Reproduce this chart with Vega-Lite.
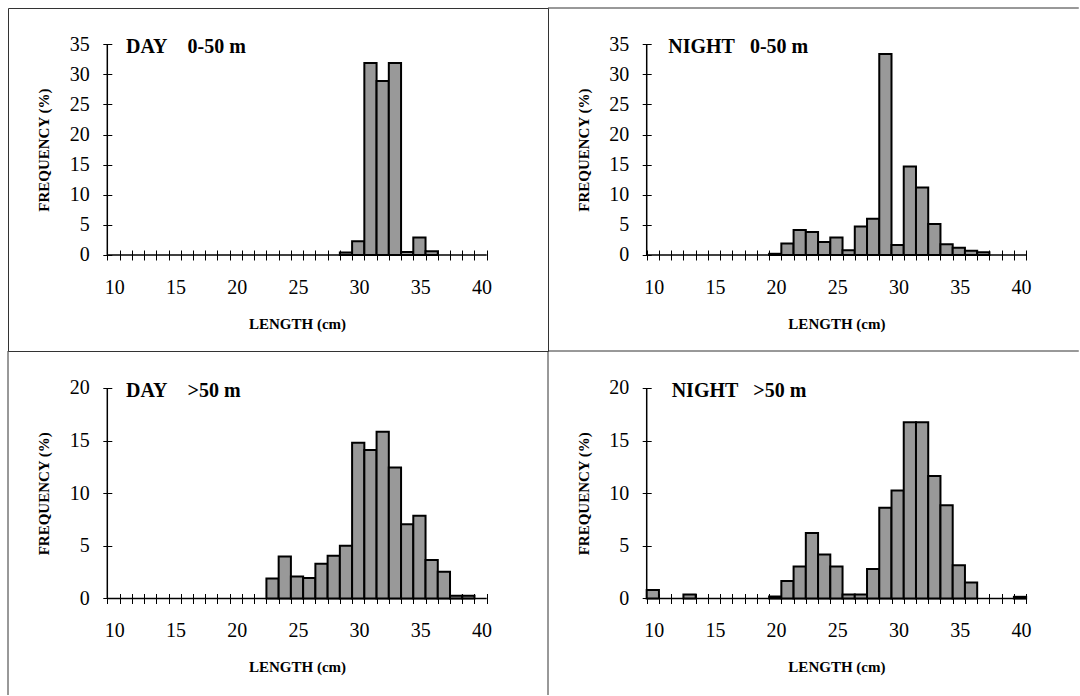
{
  "$schema": "https://vega.github.io/schema/vega-lite/v6.json",
  "padding": {"left": 7, "top": 7, "right": 0, "bottom": 0},
  "background": "white",
  "datasets": {
    "bars": [
      {"panel": "D1", "length": 29, "freq": 0.4},
      {"panel": "D1", "length": 30, "freq": 2.3},
      {"panel": "D1", "length": 31, "freq": 31.9},
      {"panel": "D1", "length": 32, "freq": 28.9},
      {"panel": "D1", "length": 33, "freq": 31.9},
      {"panel": "D1", "length": 34, "freq": 0.5},
      {"panel": "D1", "length": 35, "freq": 2.9},
      {"panel": "D1", "length": 36, "freq": 0.6},
      {"panel": "N1", "length": 20, "freq": 0.2},
      {"panel": "N1", "length": 21, "freq": 1.9},
      {"panel": "N1", "length": 22, "freq": 4.15},
      {"panel": "N1", "length": 23, "freq": 3.8},
      {"panel": "N1", "length": 24, "freq": 2.15},
      {"panel": "N1", "length": 25, "freq": 2.9},
      {"panel": "N1", "length": 26, "freq": 0.8},
      {"panel": "N1", "length": 27, "freq": 4.75},
      {"panel": "N1", "length": 28, "freq": 6.0},
      {"panel": "N1", "length": 29, "freq": 33.4},
      {"panel": "N1", "length": 30, "freq": 1.65},
      {"panel": "N1", "length": 31, "freq": 14.7},
      {"panel": "N1", "length": 32, "freq": 11.2},
      {"panel": "N1", "length": 33, "freq": 5.15},
      {"panel": "N1", "length": 34, "freq": 1.8},
      {"panel": "N1", "length": 35, "freq": 1.2},
      {"panel": "N1", "length": 36, "freq": 0.7},
      {"panel": "N1", "length": 37, "freq": 0.45},
      {"panel": "D2", "length": 23, "freq": 1.9},
      {"panel": "D2", "length": 24, "freq": 4.0},
      {"panel": "D2", "length": 25, "freq": 2.1},
      {"panel": "D2", "length": 26, "freq": 1.95},
      {"panel": "D2", "length": 27, "freq": 3.3},
      {"panel": "D2", "length": 28, "freq": 4.05},
      {"panel": "D2", "length": 29, "freq": 5.0},
      {"panel": "D2", "length": 30, "freq": 14.8},
      {"panel": "D2", "length": 31, "freq": 14.1},
      {"panel": "D2", "length": 32, "freq": 15.85},
      {"panel": "D2", "length": 33, "freq": 12.45},
      {"panel": "D2", "length": 34, "freq": 7.05},
      {"panel": "D2", "length": 35, "freq": 7.85},
      {"panel": "D2", "length": 36, "freq": 3.65},
      {"panel": "D2", "length": 37, "freq": 2.55},
      {"panel": "D2", "length": 38, "freq": 0.25},
      {"panel": "D2", "length": 39, "freq": 0.25},
      {"panel": "N2", "length": 10, "freq": 0.8},
      {"panel": "N2", "length": 13, "freq": 0.38},
      {"panel": "N2", "length": 20, "freq": 0.2},
      {"panel": "N2", "length": 21, "freq": 1.67},
      {"panel": "N2", "length": 22, "freq": 3.03},
      {"panel": "N2", "length": 23, "freq": 6.22},
      {"panel": "N2", "length": 24, "freq": 4.17},
      {"panel": "N2", "length": 25, "freq": 3.03},
      {"panel": "N2", "length": 26, "freq": 0.38},
      {"panel": "N2", "length": 27, "freq": 0.38},
      {"panel": "N2", "length": 28, "freq": 2.81},
      {"panel": "N2", "length": 29, "freq": 8.63},
      {"panel": "N2", "length": 30, "freq": 10.27},
      {"panel": "N2", "length": 31, "freq": 16.75},
      {"panel": "N2", "length": 32, "freq": 16.75},
      {"panel": "N2", "length": 33, "freq": 11.63},
      {"panel": "N2", "length": 34, "freq": 8.85},
      {"panel": "N2", "length": 35, "freq": 3.16},
      {"panel": "N2", "length": 36, "freq": 1.52},
      {"panel": "N2", "length": 40, "freq": 0.16}
    ],
    "titles": [
      {"panel": "D1", "title": "DAY\u00a0\u00a0\u00a0 0-50 m"},
      {"panel": "N1", "title": "NIGHT\u00a0\u00a0 0-50 m"},
      {"panel": "D2", "title": "DAY\u00a0\u00a0\u00a0 >50 m"},
      {"panel": "N2", "title": "NIGHT\u00a0\u00a0 >50 m"}
    ]
  },
  "config": {
    "view": {"stroke": null},
    "concat": {"spacing": 0},
    "axis": {
      "domain": false, "grid": false, "tickColor": "black", "tickWidth": 1, "tickCount": 100,
      "labelFont": "Liberation Serif", "labelFontSize": 20, "labelColor": "black",
      "labelOverlap": false, "labelFlush": false,
      "titleFont": "Liberation Serif", "titleFontSize": 15, "titleFontWeight": "bold", "titleColor": "black"
    }
  },
  "columns": 2,
  "spacing": 0,
  "bounds": "flush",
  "align": "each",
  "concat": [
    {
      "width": 540, "height": 343,
      "view": {"stroke": "#333333", "strokeWidth": 1},
      "layer": [
        {"data": {"values": [{}]}, "mark": {"type": "rule", "color": "black", "strokeWidth": 1.5},
         "encoding": {"x": {"datum": 9.5, "type": "quantitative", "scale": {"domain": [1.387, 45.505], "nice": false, "zero": false, "padding": 0}}, "x2": {"datum": 40.5},
                      "y": {"datum": 0, "type": "quantitative", "scale": {"domain": [-15.95, 41.03], "nice": false, "zero": false, "padding": 0}}}},
        {"data": {"values": [{}]}, "mark": {"type": "rule", "color": "black", "strokeWidth": 1.5},
         "encoding": {"x": {"datum": 9.5, "type": "quantitative", "scale": {"domain": [1.387, 45.505], "nice": false, "zero": false, "padding": 0}},
                      "y": {"datum": 0, "type": "quantitative", "scale": {"domain": [-15.95, 41.03], "nice": false, "zero": false, "padding": 0}}, "y2": {"datum": 35}}},
        {"data": {"name": "bars"}, "transform": [{"filter": "datum.panel === 'D1'"}],
         "mark": {"type": "bar", "orient": "vertical", "width": 12.24, "fill": "#999999", "stroke": "black", "strokeWidth": 2},
         "encoding": {
           "x": {"field": "length", "type": "quantitative", "scale": {"domain": [1.387, 45.505], "nice": false, "zero": false, "padding": 0},
                 "axis": {"title": "LENGTH (cm)", "offset": -101, "tickSize": 10, "tickCount": 100, "labelPadding": 17, "labelOffset": 7, "values": [9.5,10.5,11.5,12.5,13.5,14.5,15.5,16.5,17.5,18.5,19.5,20.5,21.5,22.5,23.5,24.5,25.5,26.5,27.5,28.5,29.5,30.5,31.5,32.5,33.5,34.5,35.5,36.5,37.5,38.5,39.5,40.5],
                          "labelExpr": "(datum.value + 0.5) % 5 == 0 ? format(datum.value + 0.5, 'd') : ''", "titleX": 289, "titleY": 73, "titleBaseline": "middle", "titleAlign": "center"}},
           "y": {"field": "freq", "type": "quantitative", "scale": {"domain": [-15.95, 41.03], "nice": false, "zero": false, "padding": 0},
                 "axis": {"title": "FREQUENCY (%)", "offset": -103.8, "tickSize": 9, "tickCount": 100, "format": "d", "labelPadding": 13.5, "values": [0,5,10,15,20,25,30,35], "titleX": -68, "titleY": 141.65, "titleBaseline": "middle", "titleAlign": "center", "titleAngle": 270}}
         }},
        {"data": {"name": "titles"}, "transform": [{"filter": "datum.panel === 'D1'"}],
         "mark": {"type": "text", "align": "left", "baseline": "middle", "font": "Liberation Serif", "fontSize": 20, "fontWeight": "bold", "color": "black"},
         "encoding": {"x": {"datum": 11.03, "type": "quantitative", "scale": {"domain": [1.387, 45.505], "nice": false, "zero": false, "padding": 0}},
                      "y": {"datum": 34.47, "type": "quantitative", "scale": {"domain": [-15.95, 41.03], "nice": false, "zero": false, "padding": 0}},
                      "text": {"field": "title"}}}
      ]
    },
    {
      "width": 532, "height": 343,
      "layer": [
        {"data": {"values": [{}]}, "mark": {"type": "rule", "color": "#333333", "strokeWidth": 1},
         "encoding": {"x": {"datum": 1.436, "type": "quantitative", "scale": {"domain": [1.436, 44.9], "nice": false, "zero": false, "padding": 0}}, "x2": {"datum": 44.8},
                      "y": {"datum": 41.03, "type": "quantitative", "scale": {"domain": [-15.95, 41.03], "nice": false, "zero": false, "padding": 0}}}},
        {"data": {"values": [{}]}, "mark": {"type": "rule", "color": "#333333", "strokeWidth": 1},
         "encoding": {"x": {"datum": 1.436, "type": "quantitative", "scale": {"domain": [1.436, 44.9], "nice": false, "zero": false, "padding": 0}}, "x2": {"datum": 44.8},
                      "y": {"datum": -15.95, "type": "quantitative", "scale": {"domain": [-15.95, 41.03], "nice": false, "zero": false, "padding": 0}}}},
        {"data": {"values": [{}]}, "mark": {"type": "rule", "color": "black", "strokeWidth": 1.5},
         "encoding": {"x": {"datum": 9.5, "type": "quantitative", "scale": {"domain": [1.436, 44.9], "nice": false, "zero": false, "padding": 0}}, "x2": {"datum": 40.5},
                      "y": {"datum": 0, "type": "quantitative", "scale": {"domain": [-15.95, 41.03], "nice": false, "zero": false, "padding": 0}}}},
        {"data": {"values": [{}]}, "mark": {"type": "rule", "color": "black", "strokeWidth": 1.5},
         "encoding": {"x": {"datum": 9.5, "type": "quantitative", "scale": {"domain": [1.436, 44.9], "nice": false, "zero": false, "padding": 0}},
                      "y": {"datum": 0, "type": "quantitative", "scale": {"domain": [-15.95, 41.03], "nice": false, "zero": false, "padding": 0}}, "y2": {"datum": 35}}},
        {"data": {"name": "bars"}, "transform": [{"filter": "datum.panel === 'N1'"}],
         "mark": {"type": "bar", "orient": "vertical", "width": 12.24, "fill": "#999999", "stroke": "black", "strokeWidth": 2},
         "encoding": {
           "x": {"field": "length", "type": "quantitative", "scale": {"domain": [1.436, 44.9], "nice": false, "zero": false, "padding": 0},
                 "axis": {"title": "LENGTH (cm)", "offset": -101, "tickSize": 10, "tickCount": 100, "labelPadding": 17, "labelOffset": 7, "values": [9.5,10.5,11.5,12.5,13.5,14.5,15.5,16.5,17.5,18.5,19.5,20.5,21.5,22.5,23.5,24.5,25.5,26.5,27.5,28.5,29.5,30.5,31.5,32.5,33.5,34.5,35.5,36.5,37.5,38.5,39.5,40.5],
                          "labelExpr": "(datum.value + 0.5) % 5 == 0 ? format(datum.value + 0.5, 'd') : ''", "titleX": 288.4, "titleY": 73, "titleBaseline": "middle", "titleAlign": "center"}},
           "y": {"field": "freq", "type": "quantitative", "scale": {"domain": [-15.95, 41.03], "nice": false, "zero": false, "padding": 0},
                 "axis": {"title": "FREQUENCY (%)", "offset": -103.2, "tickSize": 9, "tickCount": 100, "format": "d", "labelPadding": 13.5, "values": [0,5,10,15,20,25,30,35], "titleX": -68, "titleY": 141.65, "titleBaseline": "middle", "titleAlign": "center", "titleAngle": 270}}
         }},
        {"data": {"name": "titles"}, "transform": [{"filter": "datum.panel === 'N1'"}],
         "mark": {"type": "text", "align": "left", "baseline": "middle", "font": "Liberation Serif", "fontSize": 20, "fontWeight": "bold", "color": "black"},
         "encoding": {"x": {"datum": 11.26, "type": "quantitative", "scale": {"domain": [1.436, 44.9], "nice": false, "zero": false, "padding": 0}},
                      "y": {"datum": 34.47, "type": "quantitative", "scale": {"domain": [-15.95, 41.03], "nice": false, "zero": false, "padding": 0}},
                      "text": {"field": "title"}}}
      ]
    },
    {
      "width": 540, "height": 344,
      "layer": [
        {"data": {"values": [{}]}, "mark": {"type": "rule", "color": "#333333", "strokeWidth": 1},
         "encoding": {"x": {"datum": 1.387, "type": "quantitative", "scale": {"domain": [1.387, 45.505], "nice": false, "zero": false, "padding": 0}},
                      "y": {"datum": -9.169, "type": "quantitative", "scale": {"domain": [-9.169, 23.515], "nice": false, "zero": false, "padding": 0}}, "y2": {"datum": 23.515}}},
        {"data": {"values": [{}]}, "mark": {"type": "rule", "color": "#333333", "strokeWidth": 1},
         "encoding": {"x": {"datum": 45.505, "type": "quantitative", "scale": {"domain": [1.387, 45.505], "nice": false, "zero": false, "padding": 0}},
                      "y": {"datum": -9.169, "type": "quantitative", "scale": {"domain": [-9.169, 23.515], "nice": false, "zero": false, "padding": 0}}, "y2": {"datum": 23.515}}},
        {"data": {"values": [{}]}, "mark": {"type": "rule", "color": "black", "strokeWidth": 1.5},
         "encoding": {"x": {"datum": 9.5, "type": "quantitative", "scale": {"domain": [1.387, 45.505], "nice": false, "zero": false, "padding": 0}}, "x2": {"datum": 40.5},
                      "y": {"datum": 0, "type": "quantitative", "scale": {"domain": [-9.169, 23.515], "nice": false, "zero": false, "padding": 0}}}},
        {"data": {"values": [{}]}, "mark": {"type": "rule", "color": "black", "strokeWidth": 1.5},
         "encoding": {"x": {"datum": 9.5, "type": "quantitative", "scale": {"domain": [1.387, 45.505], "nice": false, "zero": false, "padding": 0}},
                      "y": {"datum": 0, "type": "quantitative", "scale": {"domain": [-9.169, 23.515], "nice": false, "zero": false, "padding": 0}}, "y2": {"datum": 20}}},
        {"data": {"name": "bars"}, "transform": [{"filter": "datum.panel === 'D2'"}],
         "mark": {"type": "bar", "orient": "vertical", "width": 12.24, "fill": "#999999", "stroke": "black", "strokeWidth": 2},
         "encoding": {
           "x": {"field": "length", "type": "quantitative", "scale": {"domain": [1.387, 45.505], "nice": false, "zero": false, "padding": 0},
                 "axis": {"title": "LENGTH (cm)", "offset": -101.5, "tickSize": 10, "tickCount": 100, "labelPadding": 17, "labelOffset": 7, "values": [9.5,10.5,11.5,12.5,13.5,14.5,15.5,16.5,17.5,18.5,19.5,20.5,21.5,22.5,23.5,24.5,25.5,26.5,27.5,28.5,29.5,30.5,31.5,32.5,33.5,34.5,35.5,36.5,37.5,38.5,39.5,40.5],
                          "labelExpr": "(datum.value + 0.5) % 5 == 0 ? format(datum.value + 0.5, 'd') : ''", "titleX": 289, "titleY": 72.5, "titleBaseline": "middle", "titleAlign": "center"}},
           "y": {"field": "freq", "type": "quantitative", "scale": {"domain": [-9.169, 23.515], "nice": false, "zero": false, "padding": 0},
                 "axis": {"title": "FREQUENCY (%)", "offset": -103.8, "tickSize": 9, "tickCount": 100, "format": "d", "labelPadding": 13.5, "values": [0,5,10,15,20], "titleX": -68, "titleY": 142.25, "titleBaseline": "middle", "titleAlign": "center", "titleAngle": 270}}
         }},
        {"data": {"name": "titles"}, "transform": [{"filter": "datum.panel === 'D2'"}],
         "mark": {"type": "text", "align": "left", "baseline": "middle", "font": "Liberation Serif", "fontSize": 20, "fontWeight": "bold", "color": "black"},
         "encoding": {"x": {"datum": 11.03, "type": "quantitative", "scale": {"domain": [1.387, 45.505], "nice": false, "zero": false, "padding": 0}},
                      "y": {"datum": 19.67, "type": "quantitative", "scale": {"domain": [-9.169, 23.515], "nice": false, "zero": false, "padding": 0}},
                      "text": {"field": "title"}}}
      ]
    },
    {
      "width": 532, "height": 344,
      "layer": [
        {"data": {"values": [{}]}, "mark": {"type": "rule", "color": "black", "strokeWidth": 1.5},
         "encoding": {"x": {"datum": 9.5, "type": "quantitative", "scale": {"domain": [1.436, 44.9], "nice": false, "zero": false, "padding": 0}}, "x2": {"datum": 40.5},
                      "y": {"datum": 0, "type": "quantitative", "scale": {"domain": [-9.169, 23.515], "nice": false, "zero": false, "padding": 0}}}},
        {"data": {"values": [{}]}, "mark": {"type": "rule", "color": "black", "strokeWidth": 1.5},
         "encoding": {"x": {"datum": 9.5, "type": "quantitative", "scale": {"domain": [1.436, 44.9], "nice": false, "zero": false, "padding": 0}},
                      "y": {"datum": 0, "type": "quantitative", "scale": {"domain": [-9.169, 23.515], "nice": false, "zero": false, "padding": 0}}, "y2": {"datum": 20}}},
        {"data": {"name": "bars"}, "transform": [{"filter": "datum.panel === 'N2'"}],
         "mark": {"type": "bar", "orient": "vertical", "width": 12.24, "fill": "#999999", "stroke": "black", "strokeWidth": 2},
         "encoding": {
           "x": {"field": "length", "type": "quantitative", "scale": {"domain": [1.436, 44.9], "nice": false, "zero": false, "padding": 0},
                 "axis": {"title": "LENGTH (cm)", "offset": -101.5, "tickSize": 10, "tickCount": 100, "labelPadding": 17, "labelOffset": 7, "values": [9.5,10.5,11.5,12.5,13.5,14.5,15.5,16.5,17.5,18.5,19.5,20.5,21.5,22.5,23.5,24.5,25.5,26.5,27.5,28.5,29.5,30.5,31.5,32.5,33.5,34.5,35.5,36.5,37.5,38.5,39.5,40.5],
                          "labelExpr": "(datum.value + 0.5) % 5 == 0 ? format(datum.value + 0.5, 'd') : ''", "titleX": 288.4, "titleY": 72.5, "titleBaseline": "middle", "titleAlign": "center"}},
           "y": {"field": "freq", "type": "quantitative", "scale": {"domain": [-9.169, 23.515], "nice": false, "zero": false, "padding": 0},
                 "axis": {"title": "FREQUENCY (%)", "offset": -103.2, "tickSize": 9, "tickCount": 100, "format": "d", "labelPadding": 13.5, "values": [0,5,10,15,20], "titleX": -68, "titleY": 142.25, "titleBaseline": "middle", "titleAlign": "center", "titleAngle": 270}}
         }},
        {"data": {"name": "titles"}, "transform": [{"filter": "datum.panel === 'N2'"}],
         "mark": {"type": "text", "align": "left", "baseline": "middle", "font": "Liberation Serif", "fontSize": 20, "fontWeight": "bold", "color": "black"},
         "encoding": {"x": {"datum": 11.54, "type": "quantitative", "scale": {"domain": [1.436, 44.9], "nice": false, "zero": false, "padding": 0}},
                      "y": {"datum": 19.67, "type": "quantitative", "scale": {"domain": [-9.169, 23.515], "nice": false, "zero": false, "padding": 0}},
                      "text": {"field": "title"}}}
      ]
    }
  ]
}
